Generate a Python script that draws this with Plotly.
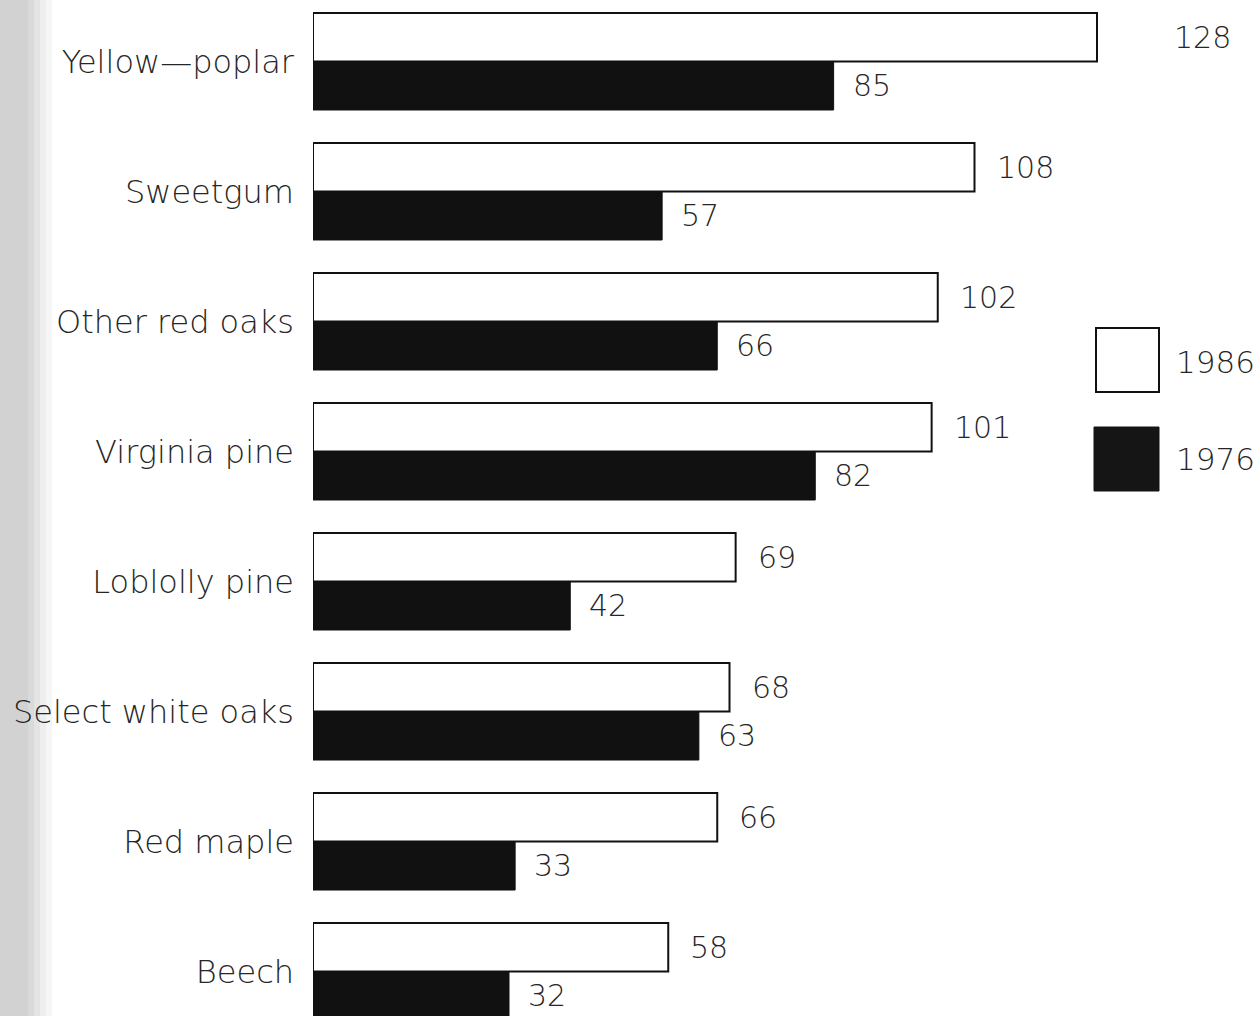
import plotly.graph_objects as go

species = ["Yellow\u2014poplar", "Sweetgum", "Other red oaks", "Virginia pine",
           "Loblolly pine", "Select white oaks", "Red maple", "Beech"]
vol_1986 = [128, 108, 102, 101, 69, 68, 66, 58]
vol_1976 = [85, 57, 66, 82, 42, 63, 33, 32]
series_names = ["1986", "1976"]

W, H = 1260, 1016
L = 313
PW = W - L
PX_PER_UNIT = 6.125
FONT = "DejaVu Sans"
TXT = "#262626"

fig = go.Figure()
fig.add_trace(go.Bar(y=species, x=vol_1986, orientation="h", name=series_names[0],
                     marker=dict(color="white", line=dict(color="#111111", width=2))))
fig.add_trace(go.Bar(y=species, x=vol_1976, orientation="h", name=series_names[1],
                     marker=dict(color="#111111", line=dict(color="#111111", width=1))))

annotations = []
for i, (s, a, b) in enumerate(zip(species, vol_1986, vol_1976)):
    shift_a = 75 if i == 0 else 20
    annotations.append(dict(x=a, y=s, xref="x", yref="y", text=str(a), showarrow=False,
                            xanchor="left", yanchor="middle", xshift=shift_a, yshift=24,
                            font=dict(family=FONT, size=30, color=TXT, weight=300)))
    annotations.append(dict(x=b, y=s, xref="x", yref="y", text=str(b), showarrow=False,
                            xanchor="left", yanchor="middle", xshift=17, yshift=-24,
                            font=dict(family=FONT, size=30, color=TXT, weight=300)))


def px_x(p):
    return (p - L) / PW


def px_y(p):
    return 1 - p / H


shapes = []
# scan shading on left edge
for x0, x1, c in [(0, 28, "#d2d2d2"), (28, 34, "#dadada"), (34, 40, "#e4e4e4"),
                  (40, 46, "#eeeeee"), (46, 52, "#f6f6f6")]:
    shapes.append(dict(type="rect", xref="paper", yref="paper", x0=px_x(x0), x1=px_x(x1),
                       y0=0, y1=1, fillcolor=c, line=dict(width=0), layer="below"))
# legend boxes
shapes.append(dict(type="rect", xref="paper", yref="paper", x0=px_x(1096), x1=px_x(1159),
                   y0=px_y(392), y1=px_y(328), fillcolor="white",
                   line=dict(color="#111111", width=2)))
shapes.append(dict(type="rect", xref="paper", yref="paper", x0=px_x(1094), x1=px_x(1159),
                   y0=px_y(491), y1=px_y(427), fillcolor="#151515",
                   line=dict(color="#151515", width=1)))
for name, cy in zip(series_names, [362, 459]):
    annotations.append(dict(x=px_x(1174), y=px_y(cy), xref="paper", yref="paper", text=name,
                            showarrow=False, xanchor="left", yanchor="middle",
                            font=dict(family=FONT, size=31, color=TXT, weight=300)))

fig.update_layout(
    width=W, height=H,
    margin=dict(l=L, r=0, t=0, b=0, pad=0),
    paper_bgcolor="white", plot_bgcolor="white",
    barmode="group", bargap=0.254, bargroupgap=0,
    showlegend=False,
    xaxis=dict(range=[0, PW / PX_PER_UNIT], visible=False, fixedrange=True),
    yaxis=dict(range=[7.342, -0.473], showgrid=False, zeroline=False, showline=False,
               ticks="", ticklabelstandoff=18, fixedrange=True,
               tickfont=dict(family=FONT, size=32, color=TXT, weight=300)),
    annotations=annotations, shapes=shapes,
)

fig.write_html("out.html", config={"displayModeBar": False},
               post_script="document.body.style.margin='0';document.body.style.overflow='hidden';")
